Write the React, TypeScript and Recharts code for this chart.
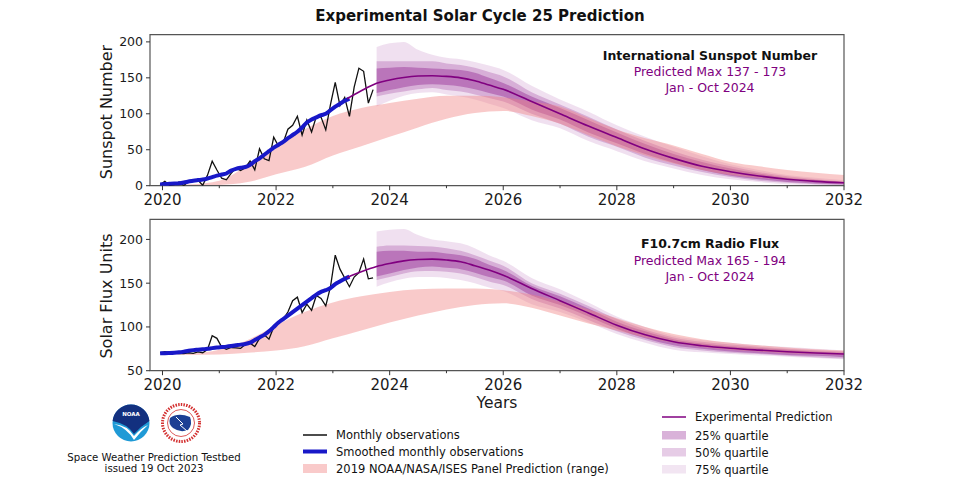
import React from 'react';
import { ComposedChart, Area, Line, XAxis, YAxis, ReferenceArea } from 'recharts';

// ---------- DATA ----------
// Monthly observations start Dec 2019 (plotted mid-month)
const obsStartYear = 2019 + 11.5 / 12;
const ssnMonthly = [1.5, 6.2, 0.2, 1.5, 5.2, 0.2, 5.8, 6.1, 7.5, 0.6, 14.4, 34.0, 21.8, 10.4, 8.2, 17.2, 24.5, 21.2, 25.0, 34.3, 22.0, 51.3, 37.4, 34.8, 67.5, 55.3, 59.9, 78.5, 84.1, 96.5, 70.5, 91.4, 74.6, 96.0, 95.5, 77.6, 113.1, 143.6, 111.3, 122.6, 96.4, 137.0, 163.4, 159.1, 114.8, 133.6];
const f107Monthly = [70.5, 71.8, 70.9, 70.2, 69.5, 69.5, 70.5, 69.8, 71.5, 70.5, 74.0, 90.0, 87.0, 77.0, 74.5, 76.5, 76.0, 75.5, 80.0, 81.5, 77.5, 87.0, 91.0, 86.0, 100.0, 104.0, 109.0, 117.0, 130.0, 134.0, 116.5, 126.0, 119.0, 136.0, 132.5, 124.0, 146.0, 182.0, 166.0, 156.0, 146.0, 157.0, 162.0, 177.5, 155.0, 156.0];
const ssnSmoothed = [1.8, 2.3, 2.6, 3.0, 3.5, 4.5, 5.8, 7.0, 7.8, 8.5, 10.0, 12.0, 14.0, 15.5, 17.0, 21.0, 23.5, 25.0, 26.0, 29.0, 34.0, 38.0, 43.0, 48.0, 53.0, 57.0, 61.0, 66.0, 70.5, 75.0, 81.0, 88.0, 92.0, 95.0, 98.0, 100.0, 105.0, 110.0, 114.0, 118.0, 121.0];
const f107Smoothed = [70.0, 70.0, 70.2, 70.5, 71.0, 71.8, 72.8, 73.5, 74.0, 74.5, 75.0, 75.8, 76.5, 77.0, 77.5, 78.2, 79.0, 79.8, 80.5, 82.0, 85.0, 88.0, 91.0, 95.0, 100.0, 105.0, 109.0, 113.0, 117.0, 121.0, 125.0, 129.0, 133.0, 137.0, 140.0, 142.0, 144.5, 149.0, 152.0, 155.0, 157.5];

// Experimental prediction (median line)
const predYears = [2023.25, 2023.5, 2023.77, 2024.0, 2024.25, 2024.5, 2024.75, 2025.0, 2025.25, 2025.5, 2025.75, 2026.0, 2026.5, 2027.0, 2027.5, 2028.0, 2028.5, 2029.0, 2029.5, 2030.0, 2030.5, 2031.0, 2031.5, 2032.0];
const ssnPredicted = [121, 132, 142.5, 147, 150.5, 152.5, 153, 152, 150, 146, 140, 134, 117, 100, 83, 67, 51, 38, 27, 19.5, 13.5, 9, 6, 4];
const f107Predicted = [156.5, 163, 169, 172.5, 175.5, 177, 177.5, 176.5, 174.5, 170, 165, 159, 144, 130, 116, 102, 91, 83, 78.5, 75.6, 73.5, 71.7, 70.2, 69];

// Quartile bands
const bandYears = [2023.77, 2024.0, 2024.25, 2024.5, 2024.75, 2025.0, 2025.25, 2025.5, 2025.75, 2026.0, 2026.5, 2027.0, 2027.5, 2028.0, 2028.5, 2029.0, 2029.5, 2030.0, 2030.5, 2031.0, 2031.5, 2032.0];
const ssnQ75Low = [110, 118, 125, 129, 130, 127, 124, 120, 114, 108, 91, 80, 62, 48, 34, 24, 15, 9, 5, 2, 1, 0];
const ssnQ50Low = [124, 128, 131, 134, 136, 133, 131, 127, 122, 117, 100, 86, 68, 54, 39, 28, 19, 12, 7, 4, 2, 1];
const ssnQ25Low = [129, 133, 137, 140, 141, 140, 138, 134, 129, 124, 106, 92, 74, 59, 44, 32, 22, 14, 9, 5, 3, 2];
const ssnQ25High = [163, 164, 165, 164, 163, 162, 161, 157, 150, 143, 124, 108, 91, 74, 58, 44, 33, 24, 17, 11, 8, 5];
const ssnQ50High = [173, 173, 173, 173, 173, 170, 168, 164, 158, 152, 130, 113, 96, 78, 62, 48, 36, 27, 19, 13, 9, 6];
const ssnQ75High = [193, 198, 200, 189, 182, 178, 176, 172, 167, 161, 139, 120, 103, 84, 68, 54, 41, 30, 22, 15, 11, 8];
const f107Q75Low = [146, 151, 155, 157, 157, 156, 153.5, 150, 145, 141, 126, 117, 105, 92, 82, 74, 71, 69, 67.5, 66, 64.5, 63];
const f107Q50Low = [153.5, 157, 161, 163.5, 164, 163, 161, 157, 152, 148, 132, 121, 108, 95, 85, 77, 73, 70.5, 69, 67, 65.5, 64];
const f107Q25Low = [157.5, 161, 165, 168, 169, 167.5, 166, 162, 157, 153, 136, 125, 112, 98, 87, 79, 75, 72, 70, 68, 67, 65.5];
const f107Q25High = [186, 187, 187, 186, 186, 184, 182, 178, 171, 165, 147, 135, 121, 106, 95, 86, 81, 78, 76, 74, 72, 70.5];
const f107Q50High = [191.5, 193, 193, 192.5, 192, 190, 187, 182, 176, 170, 150, 138, 124, 109, 97, 88, 83, 80, 77.5, 75, 73.5, 72];
const f107Q75High = [209, 211, 212, 205, 200, 198, 195.5, 190, 182, 175.5, 156, 143, 128, 112, 100, 90, 85, 82, 79, 77, 75, 73];

// 2019 NOAA/NASA/ISES panel prediction range
const panelYears = [2019.78, 2020.0, 2020.5, 2021.0, 2021.5, 2022.0, 2022.5, 2023.0, 2023.5, 2024.0, 2024.5, 2025.0, 2025.5, 2026.0, 2026.5, 2027.0, 2027.5, 2028.0, 2028.5, 2029.0, 2029.5, 2030.0, 2030.5, 2031.0, 2031.5, 2032.0];
const ssnPanelLow = [0, 0, 0, 1, 5, 16, 26, 42, 55, 68, 81, 93, 101, 104, 97, 86, 70, 55, 42, 31, 22, 15, 11, 8, 5, 3];
const ssnPanelHigh = [1, 1, 2, 7, 28, 52, 78, 97, 108, 115, 121, 125, 125, 123, 117, 110, 94, 78, 66, 56, 44, 33, 27, 22, 18, 15];
const f107PanelLow = [68, 68, 68, 68.5, 70.5, 73, 78, 87, 96, 105, 113, 120, 125, 127, 122, 113, 104, 96, 88, 82, 77, 74, 72, 70, 69, 68];
const f107PanelHigh = [68, 68, 69.5, 74, 85, 102, 117, 128, 135, 140, 143, 144, 144, 142, 137, 129, 120, 110, 100, 92, 86, 82, 79, 76.5, 74.5, 73];

const xTicks = [2020, 2021, 2022, 2023, 2024, 2025, 2026, 2027, 2028, 2029, 2030, 2031, 2032];
const ssnTicks = [0, 50, 100, 150, 200];
const f107Ticks = [50, 100, 150, 200];
const X_DOMAIN: [number, number] = [2019.78, 2032];

// ---------- helpers ----------
const FONT = 'DejaVu Sans';
const PURPLE = '#800080';
const PINK = '#f08080';
const BLUE = '#1818c8';

const series = (xs: number[], ys: number[]) => xs.map((x, i) => ({ x, v: ys[i] }));
const monthly = (ys: number[]) => ys.map((v, i) => ({ x: obsStartYear + i / 12, v }));
const ranged = (xs: number[], lo: number[], hi: number[]) => xs.map((x, i) => ({ x, r: [lo[i], hi[i]] }));

const XTick = (props: any) => {
  const { x, y, payload } = props;
  const major = Math.round(payload.value) % 2 === 0;
  return (
    <g>
      <line x1={x} x2={x} y1={y} y2={y + (major ? 4.5 : 2.5)} stroke="#333" strokeWidth={1} />
      {major && (
        <text x={x} y={y + 19.5} textAnchor="middle" fontSize={15} fill="#1a1a1a" fontFamily={FONT}>
          {payload.value}
        </text>
      )}
    </g>
  );
};

type PanelProps = {
  top: number;
  bottomPx: number;
  yDomain: [number, number];
  yTicks: number[];
  monthlyVals: number[];
  smoothedVals: number[];
  predVals: number[];
  q: number[][];
  panelLo: number[];
  panelHi: number[];
};

const Panel = ({ top, bottomPx, yDomain, yTicks, monthlyVals, smoothedVals, predVals, q, panelLo, panelHi }: PanelProps) => {
  const H = 487;
  const xAxisH = 20;
  return (
    <div style={{ position: 'absolute', left: 0, top: 0, width: 960, height: H, pointerEvents: 'none' }}>
      <ComposedChart width={960} height={H} margin={{ top, right: 116, left: 110, bottom: H - bottomPx - xAxisH }}>
        <XAxis
          dataKey="x"
          type="number"
          domain={X_DOMAIN}
          allowDataOverflow
          ticks={xTicks}
          interval={0}
          tickSize={0}
          tickMargin={0}
          tickLine={false}
          axisLine={false}
          height={xAxisH}
          tick={<XTick />}
        />
        <YAxis
          type="number"
          domain={yDomain}
          allowDataOverflow
          ticks={yTicks}
          interval={0}
          width={40}
          tickSize={4}
          tickMargin={3}
          axisLine={false}
          tickLine={{ stroke: '#333' }}
          tick={{ fontSize: 12.5, fill: '#1a1a1a', fontFamily: FONT }}
        />
        <Area data={ranged(bandYears, q[0], q[5])} dataKey="r" type="monotone" stroke="none" fill={PURPLE} fillOpacity={0.12} isAnimationActive={false} dot={false} activeDot={false} />
        <Area data={ranged(bandYears, q[1], q[4])} dataKey="r" type="monotone" stroke="none" fill={PURPLE} fillOpacity={0.22} isAnimationActive={false} dot={false} activeDot={false} />
        <Area data={ranged(bandYears, q[2], q[3])} dataKey="r" type="monotone" stroke="none" fill={PURPLE} fillOpacity={0.33} isAnimationActive={false} dot={false} activeDot={false} />
        <Area data={ranged(panelYears, panelLo, panelHi)} dataKey="r" type="monotone" stroke="none" fill={PINK} fillOpacity={0.42} isAnimationActive={false} dot={false} activeDot={false} />
        <Line data={monthly(monthlyVals)} dataKey="v" type="linear" stroke="#111" strokeWidth={1.3} dot={false} activeDot={false} isAnimationActive={false} />
        <Line data={monthly(smoothedVals)} dataKey="v" type="monotone" stroke={BLUE} strokeWidth={4} dot={false} activeDot={false} isAnimationActive={false} />
        <Line data={series(predYears, predVals)} dataKey="v" type="monotone" stroke={PURPLE} strokeWidth={1.6} dot={false} activeDot={false} isAnimationActive={false} />
        <ReferenceArea x1={X_DOMAIN[0]} x2={X_DOMAIN[1]} y1={yDomain[0]} y2={yDomain[1]} fill="none" stroke="#555" strokeWidth={1.2} ifOverflow="visible" />
      </ComposedChart>
    </div>
  );
};

const Overlay = () => (
  <svg width={960} height={487} style={{ position: 'absolute', left: 0, top: 0, pointerEvents: 'none' }} fontFamily={FONT}>
    <text x={480} y={21} textAnchor="middle" fontSize={15} fontWeight="bold" fill="#111">Experimental Solar Cycle 25 Prediction</text>

    <text x={106} y={112} transform="rotate(-90 106 112)" textAnchor="middle" dominantBaseline="central" fontSize={16} fill="#1a1a1a">Sunspot Number</text>
    <text x={106} y={296} transform="rotate(-90 106 296)" textAnchor="middle" dominantBaseline="central" fontSize={16} fill="#1a1a1a">Solar Flux Units</text>
    <text x={497} y={408} textAnchor="middle" fontSize={15.5} fill="#1a1a1a">Years</text>

    <text x={710} y={59.5} textAnchor="middle" fontSize={12.5} fontWeight="bold" fill="#111">International Sunspot Number</text>
    <text x={710} y={75.5} textAnchor="middle" fontSize={12.5} fill={PURPLE}>Predicted Max 137 - 173</text>
    <text x={710} y={91.5} textAnchor="middle" fontSize={12.5} fill={PURPLE}>Jan - Oct 2024</text>

    <text x={710} y={248} textAnchor="middle" fontSize={12.5} fontWeight="bold" fill="#111">F10.7cm Radio Flux</text>
    <text x={710} y={264.5} textAnchor="middle" fontSize={12.5} fill={PURPLE}>Predicted Max 165 - 194</text>
    <text x={710} y={280.5} textAnchor="middle" fontSize={12.5} fill={PURPLE}>Jan - Oct 2024</text>

    {/* logos */}
    <g>
      <circle cx={131} cy={423} r={18.5} fill="#1f9ad6" />
      <path d="M 112.6 421 A 18.5 18.5 0 0 1 149.4 421 Q 141 426 134 434 Q 128 424 112.6 421 Z" fill="#13307f" />
      <path d="M 114 424 Q 127 425 134 436 Q 141 428 148 425 Q 141 431 134 440 Q 127 428 114 424 Z" fill="#ffffff" />
      <text x={131} y={416} textAnchor="middle" fontSize={5.5} fontWeight="bold" fill="#ffffff">NOAA</text>
    </g>
    <g>
      <circle cx={181} cy={423} r={18.5} fill="#ffffff" stroke="#d32f2f" strokeWidth={3} strokeDasharray="1.5 1.2" />
      <circle cx={181} cy={423} r={13.5} fill="#ffffff" stroke="#d32f2f" strokeWidth={0.8} />
      <path d="M 170 418 Q 178 412 190 417 Q 193 424 188 430 Q 180 433 173 428 Q 168 424 170 418 Z" fill="#1c3f94" />
      <path d="M 176 417 L 183 424 L 180 425 L 187 431" stroke="#ffffff" strokeWidth={1} fill="none" />
    </g>
    <text x={154} y={460.5} textAnchor="middle" fontSize={10.2} fill="#111">Space Weather Prediction Testbed</text>
    <text x={154} y={472} textAnchor="middle" fontSize={10.2} fill="#111">issued 19 Oct 2023</text>

    {/* middle legend */}
    <line x1={303} x2={327} y1={435} y2={435} stroke="#111" strokeWidth={1.5} />
    <text x={336} y={439} fontSize={11.5} fill="#111">Monthly observations</text>
    <line x1={303} x2={327} y1={451.5} y2={451.5} stroke={BLUE} strokeWidth={4} />
    <text x={336} y={455.5} fontSize={11.5} fill="#111">Smoothed monthly observations</text>
    <rect x={303} y={464} width={24} height={9} fill={PINK} fillOpacity={0.42} />
    <text x={336} y={472.5} fontSize={11.5} fill="#111">2019 NOAA/NASA/ISES Panel Prediction (range)</text>

    {/* right legend */}
    <line x1={662} x2={686} y1={417} y2={417} stroke={PURPLE} strokeWidth={1.5} />
    <text x={695} y={421} fontSize={11.5} fill="#111">Experimental Prediction</text>
    <rect x={662} y={431} width={24} height={8.5} fill={PURPLE} fillOpacity={0.3} />
    <text x={695} y={439.5} fontSize={11.5} fill="#111">25% quartile</text>
    <rect x={662} y={448} width={24} height={8.5} fill={PURPLE} fillOpacity={0.2} />
    <text x={695} y={456.5} fontSize={11.5} fill="#111">50% quartile</text>
    <rect x={662} y={465} width={24} height={8.5} fill={PURPLE} fillOpacity={0.1} />
    <text x={695} y={473.5} fontSize={11.5} fill="#111">75% quartile</text>
  </svg>
);

export default function App() {
  return (
    <div style={{ position: 'absolute', left: 0, top: 0, width: 960, height: 487, background: '#fff', overflow: 'hidden' }}>
      <Panel
        top={34.7}
        bottomPx={185.7}
        yDomain={[0, 210]}
        yTicks={ssnTicks}
        monthlyVals={ssnMonthly}
        smoothedVals={ssnSmoothed}
        predVals={ssnPredicted}
        q={[ssnQ75Low, ssnQ50Low, ssnQ25Low, ssnQ25High, ssnQ50High, ssnQ75High]}
        panelLo={ssnPanelLow}
        panelHi={ssnPanelHigh}
      />
      <Panel
        top={219.3}
        bottomPx={370.7}
        yDomain={[50, 223]}
        yTicks={f107Ticks}
        monthlyVals={f107Monthly}
        smoothedVals={f107Smoothed}
        predVals={f107Predicted}
        q={[f107Q75Low, f107Q50Low, f107Q25Low, f107Q25High, f107Q50High, f107Q75High]}
        panelLo={f107PanelLow}
        panelHi={f107PanelHigh}
      />
      <Overlay />
    </div>
  );
}
